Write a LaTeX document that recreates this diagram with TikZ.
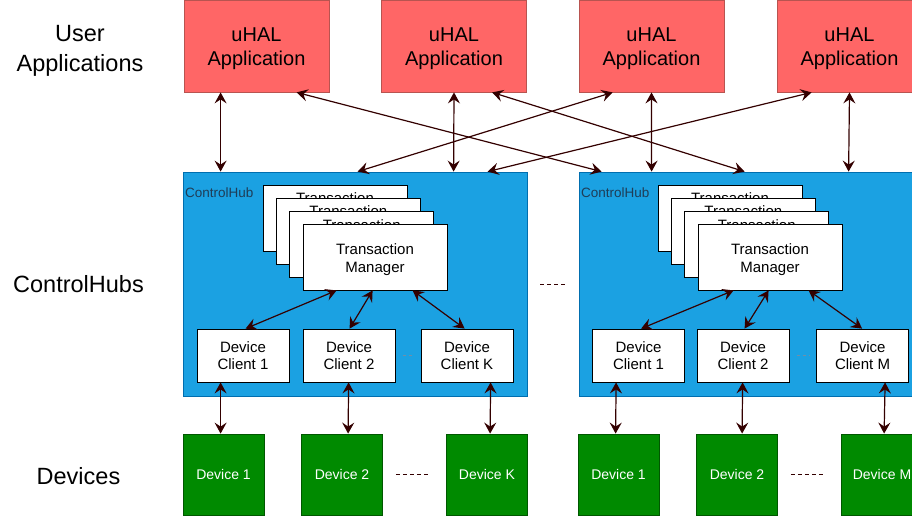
\documentclass[tikz,border=0pt]{standalone}
\usepackage{fontspec}
\setmainfont{Liberation Sans}
\usetikzlibrary{arrows.meta}
\definecolor{appfill}{HTML}{FF6666}
\definecolor{appdraw}{HTML}{B85450}
\definecolor{hubfill}{HTML}{1BA1E2}
\definecolor{hubdraw}{HTML}{006EAF}
\definecolor{devfill}{HTML}{008A00}
\definecolor{devdraw}{HTML}{005700}
\definecolor{arrcol}{HTML}{330000}
\definecolor{hubtext}{HTML}{1F3D57}
\definecolor{dashgray}{HTML}{6F8FA8}
\begin{document}
\begin{tikzpicture}[x=1pt,y=-1pt,
  app/.style={draw=appdraw, fill=appfill, line width=0.8pt, minimum width=145pt, minimum height=92pt, inner sep=0pt, align=center, font=\fontsize{20}{24}\selectfont},
  hub/.style={draw=hubdraw, fill=hubfill, line width=0.8pt, minimum width=344pt, minimum height=224pt, inner sep=0pt},
  hublbl/.style={text=hubtext, inner sep=0pt, font=\fontsize{13.5}{16}\selectfont},
  tmbox/.style={draw=black, fill=white, line width=0.8pt, minimum width=144pt, minimum height=66pt, inner sep=0pt, align=center, font=\fontsize{15}{18}\selectfont},
  tmback/.style={tmbox, label={[anchor=base, yshift=-19pt, inner sep=0pt, font=\fontsize{15}{18}\selectfont]north:Transaction}},
  dcbox/.style={draw=black, fill=white, line width=0.8pt, minimum width=92pt, minimum height=53pt, inner sep=0pt, align=center, font=\fontsize{15}{17.5}\selectfont},
  devbox/.style={draw=devdraw, fill=devfill, line width=0.8pt, minimum width=81pt, minimum height=81pt, inner sep=0pt, text=white, font=\fontsize{14}{17}\selectfont},
  lab/.style={align=center, inner sep=0pt, font=\fontsize{23.5}{30}\selectfont},
  arr/.style={draw=arrcol, line width=1.2pt, >={Stealth[length=11pt,width=12pt,inset=4pt]}, <->},
  reddash/.style={draw=arrcol, line width=0.9pt, dash pattern=on 4pt off 3pt},
  graydash/.style={draw=dashgray, line width=0.9pt, dash pattern=on 3pt off 3pt}
]
\useasboundingbox (0,0) rectangle (912,517);
\clip (0,0) rectangle (912,517);

% row labels
\node[lab] (lUser) at (80,51) {User\\Applications};
\node[lab, anchor=base] (lHubs) at (78.5,292) {ControlHubs};
\node[lab, anchor=base] (lDev) at (78.5,484) {Devices};

% applications
\node[app] (app1) at (256.5,46) {\rule{0pt}{20pt}uHAL\\Application};
\node[app] (app2) at (454,46) {\rule{0pt}{20pt}uHAL\\Application};
\node[app] (app3) at (651.5,46) {\rule{0pt}{20pt}uHAL\\Application};
\node[app] (app4) at (849.5,46) {\rule{0pt}{20pt}uHAL\\Application};

% control hubs
\node[hub] (chA) at (355,284) {};
\node[hub] (chB) at (751,284) {};
\node[hublbl, anchor=base west] (chAl) at (185,197) {ControlHub};
\node[hublbl, anchor=base west] (chBl) at (581,197) {ControlHub};

% transaction manager stacks
\node[tmback] (tmA1) at (335,218) {};
\node[tmback] (tmA2) at (348.3,231.3) {};
\node[tmback] (tmA3) at (361.7,244.7) {};
\node[tmbox] (tmA) at (375,257) {\rule{0pt}{17pt}Transaction\\Manager};
\node[tmback] (tmB1) at (730,218) {};
\node[tmback] (tmB2) at (743.3,231.3) {};
\node[tmback] (tmB3) at (756.7,244.7) {};
\node[tmbox] (tmB) at (770,257) {\rule{0pt}{17pt}Transaction\\Manager};

% device clients
\node[dcbox] (dcA1) at (243,355.5) {Device\\Client 1};
\node[dcbox] (dcA2) at (349,355.5) {Device\\Client 2};
\node[dcbox] (dcAK) at (467,355.5) {Device\\Client K};
\node[dcbox] (dcB1) at (638.5,355.5) {Device\\Client 1};
\node[dcbox] (dcB2) at (743,355.5) {Device\\Client 2};
\node[dcbox] (dcBM) at (862.5,355.5) {Device\\Client M};

% devices
\node[devbox] (devA1) at (223.5,474.5) {Device 1};
\node[devbox] (devA2) at (342,474.5) {Device 2};
\node[devbox] (devAK) at (487,474.5) {Device K};
\node[devbox] (devB1) at (618.5,474.5) {Device 1};
\node[devbox] (devB2) at (737,474.5) {Device 2};
\node[devbox] (devBM) at (882,474.5) {Device M};

% application <-> control hub
\draw[arr] ([xshift=37pt]app1.south west) -- ([xshift=38pt]chA.north west);
\draw[arr] (app2.south) -- ([xshift=271pt]chA.north west);
\draw[arr] (app3.south) -- ([xshift=73pt]chB.north west);
\draw[arr] (app4.south) -- ([xshift=270pt]chB.north west);
\draw[arr] ([xshift=113pt]app1.south west) -- ([xshift=23pt]chB.north west);
\draw[arr] ([xshift=111pt]app2.south west) -- ([xshift=166pt]chB.north west);
\draw[arr] ([xshift=34pt]app3.south west) -- ([xshift=175pt]chA.north west);
\draw[arr] ([xshift=35pt]app4.south west) -- ([xshift=305pt]chA.north west);

% transaction manager <-> device clients
\draw[arr] ([xshift=34pt]tmA.south west) -- ([xshift=49pt]dcA1.north west);
\draw[arr] ([xshift=70pt]tmA.south west) -- ([xshift=47pt]dcA2.north west);
\draw[arr] ([xshift=110pt]tmA.south west) -- ([xshift=44pt]dcAK.north west);
\draw[arr] ([xshift=36pt]tmB.south west) -- ([xshift=49pt]dcB1.north west);
\draw[arr] ([xshift=71pt]tmB.south west) -- ([xshift=48pt]dcB2.north west);
\draw[arr] ([xshift=111pt]tmB.south west) -- ([xshift=46pt]dcBM.north west);

% device clients <-> devices
\draw[arr] ([xshift=24pt]dcA1.south west) -- ([xshift=38pt]devA1.north west);
\draw[arr] ([xshift=46pt]dcA2.south west) -- ([xshift=47pt]devA2.north west);
\draw[arr] ([xshift=70pt]dcAK.south west) -- ([xshift=44pt]devAK.north west);
\draw[arr] ([xshift=24pt]dcB1.south west) -- ([xshift=38pt]devB1.north west);
\draw[arr] ([xshift=46pt]dcB2.south west) -- ([xshift=46pt]devB2.north west);
\draw[arr] ([xshift=69pt]dcBM.south west) -- ([xshift=43pt]devBM.north west);

% ellipsis dashes
\draw[graydash, shorten <=8pt, shorten >=6pt] (dcA2.east) -- (dcAK.west);
\draw[graydash, shorten <=8pt, shorten >=6pt] (dcB2.east) -- (dcBM.west);
\draw[reddash, shorten <=13pt, shorten >=17pt] (devA2.east) -- (devAK.west);
\draw[reddash, shorten <=13pt, shorten >=16pt] (devB2.east) -- (devBM.west);
\draw[reddash, shorten <=13pt, shorten >=13pt] (chA.east) -- (chB.west);
\end{tikzpicture}
\end{document}
